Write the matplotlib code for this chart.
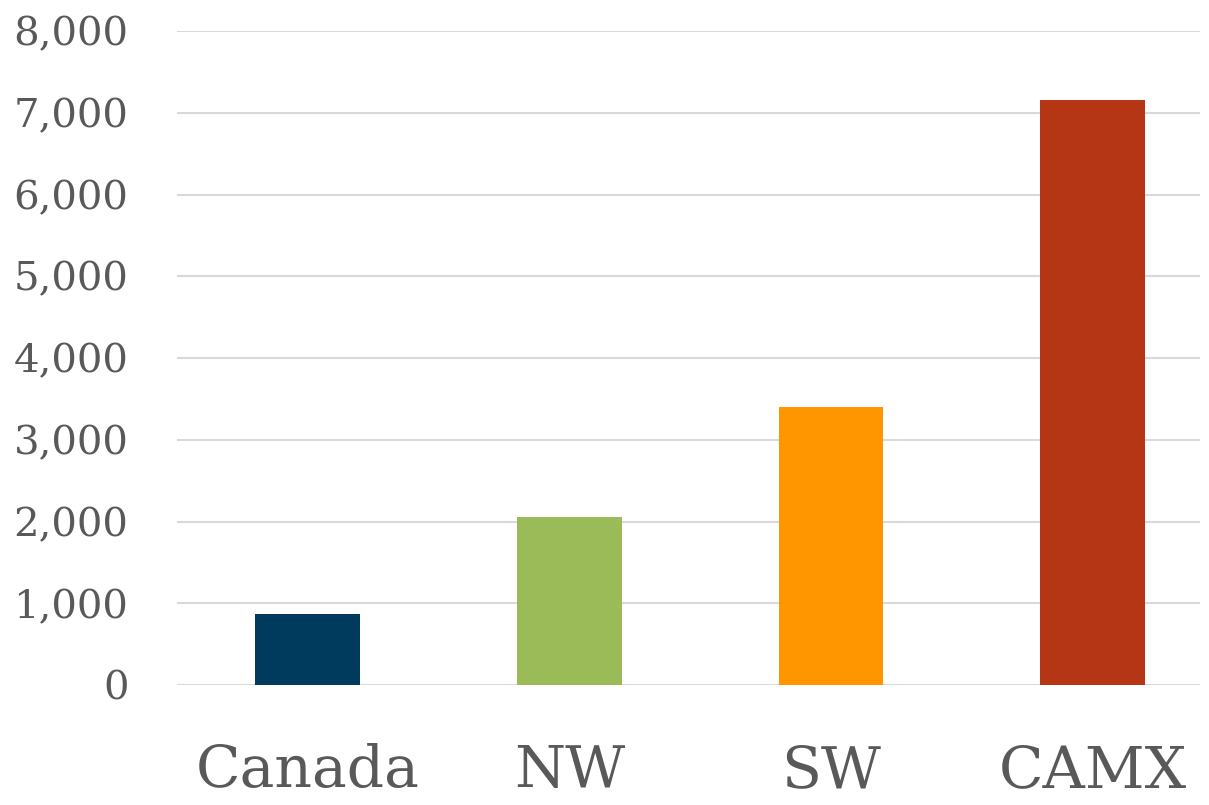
import numpy as np
import matplotlib.pyplot as plt

# data to plot
regions = ['Canada', 'NW', 'SW', 'CAMX']
values = [870, 2055, 3400, 7160]
colors = ['#003A5D', '#9BBB59', '#FF9600', '#B43614']

fig = plt.figure(figsize=(12.09, 8.05), dpi=100)
ax = fig.add_axes([0.1464, 0.149, 0.8462, 0.8125])

index = np.arange(len(regions))
ax.bar(index, values, 0.4, color=colors, zorder=2)

ax.set_ylim(0, 8000)
ax.set_xlim(-0.5, 3.41)
ax.set_yticks(np.arange(0, 8001, 1000))
ax.set_yticklabels(['{:,}'.format(v) for v in range(0, 8001, 1000)])
ax.set_xticks(index)
ax.set_xticklabels(regions)

ax.grid(axis='y', color='#D9D9D9', linewidth=1.5, zorder=0)
for s in ax.spines.values():
    s.set_visible(False)
ax.tick_params(axis='both', length=0, colors='#595959')
ax.tick_params(axis='y', labelsize=29, pad=35)
ax.tick_params(axis='x', labelsize=42, pad=42)
for lbl in ax.get_xticklabels() + ax.get_yticklabels():
    lbl.set_family('DejaVu Serif')

plt.savefig('out.png', dpi=100)
